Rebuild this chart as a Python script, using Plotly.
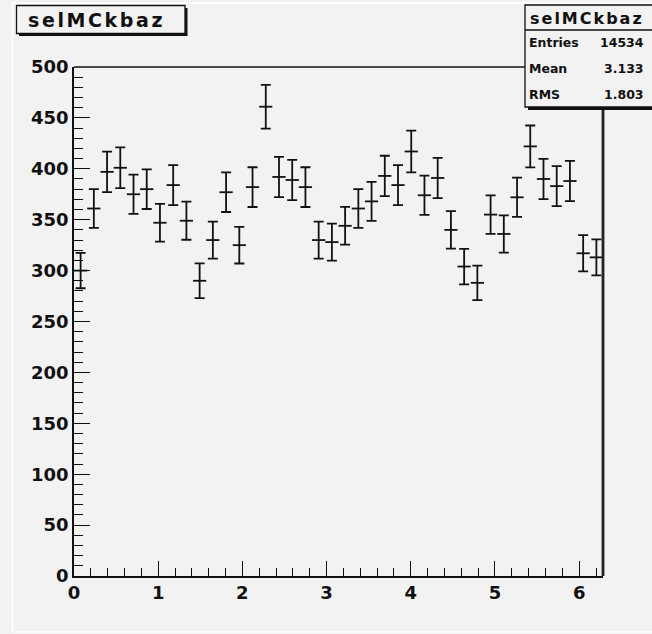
import numpy as np
import plotly.graph_objects as go

BG = "#f2f2f2"
INK = "#111111"
FONT = "DejaVu Sans"

# histogram selMCkbaz: 40 bins on [0, 2pi]
N_BINS = 40
X_MIN, X_MAX = 0.0, 2 * np.pi
COUNTS = [300, 361, 397, 401, 375, 380, 347, 384, 349, 290,
          330, 377, 325, 382, 461, 392, 389, 382, 330, 328,
          344, 361, 368, 393, 384, 417, 374, 391, 340, 304,
          288, 355, 336, 372, 422, 390, 383, 388, 317, 313]
STAT_LABELS = ["Entries", "Mean", "RMS"]
STAT_VALUES = ["14534", "3.133", "1.803"]
HIST_NAME = "selMCkbaz"

W, H = 652, 634
L, R, T, B = 74, 49, 67, 58
PW, PH = W - L - R, H - T - B


def px(x):
    return (x - L) / PW


def py(y):
    return (H - B - y) / PH


edges = np.linspace(X_MIN, X_MAX, N_BINS + 1)
centers = 0.5 * (edges[:-1] + edges[1:])
half = 0.5 * (edges[1] - edges[0])
counts = np.array(COUNTS, dtype=float)

fig = go.Figure(
    go.Scatter(
        x=centers, y=counts, mode="markers",
        marker=dict(size=1, color=INK),
        error_x=dict(type="constant", value=half, width=0, thickness=1.8, color=INK),
        error_y=dict(type="data", array=np.sqrt(counts), width=5, thickness=1.8, color=INK),
        showlegend=False, cliponaxis=False,
    )
)

axis_common = dict(
    showgrid=False, zeroline=False, showline=True, linecolor=INK, linewidth=1.5,
    ticks="inside", tickcolor=INK, tickwidth=1.3,
    tickfont=dict(family=FONT, size=18, color=INK, weight="bold"),
)
fig.update_xaxes(range=[X_MIN, X_MAX], dtick=1, tick0=0, ticklen=15,
                 minor=dict(ticks="inside", ticklen=8, dtick=0.2, tickcolor=INK, tickwidth=1.3),
                 **axis_common)
fig.update_yaxes(range=[0, 500], dtick=50, tick0=0, ticklen=16,
                 minor=dict(ticks="inside", ticklen=9, dtick=10, tickcolor=INK, tickwidth=1.3),
                 **axis_common)

shapes = [
    # pad border highlights
    dict(type="line", x0=px(12.5), x1=px(12.5), y0=py(3), y1=py(632), line=dict(color="#ffffff", width=1.5)),
    dict(type="line", x0=px(12), x1=px(720), y0=py(3), y1=py(3), line=dict(color="#ffffff", width=2)),
    dict(type="line", x0=px(12), x1=px(720), y0=py(632), y1=py(632), line=dict(color="#ffffff", width=1.5)),
    # frame top / right
    dict(type="line", x0=0, x1=1, y0=1, y1=1, line=dict(color=INK, width=1.3)),
    dict(type="line", x0=1, x1=1, y0=0, y1=1, line=dict(color="#222222", width=2.8)),
    # title box + shadow
    dict(type="rect", x0=px(19), x1=px(187.5), y0=py(8), y1=py(36), fillcolor=INK, line=dict(width=0)),
    dict(type="rect", x0=px(16.5), x1=px(185), y0=py(5.5), y1=py(33.5), fillcolor=BG, line=dict(color=INK, width=1.3)),
    # stats box + shadow
    dict(type="rect", x0=px(528), x1=px(730), y0=py(8), y1=py(110), fillcolor=INK, line=dict(width=0)),
    dict(type="rect", x0=px(525), x1=px(720), y0=py(5), y1=py(107), fillcolor=BG, line=dict(color=INK, width=1.3)),
    dict(type="line", x0=px(525), x1=px(720), y0=py(30), y1=py(30), line=dict(color=INK, width=1.3)),
]
for s in shapes:
    s.update(xref="paper", yref="paper")

annotations = [
    dict(x=px(96), y=py(20), text=f"<span style='letter-spacing:2.6px'>{HIST_NAME}</span>",
         font=dict(family=FONT, size=19, color=INK, weight="bold")),
    dict(x=px(587), y=py(18), text=f"<span style='letter-spacing:2px'>{HIST_NAME}</span>",
         font=dict(family=FONT, size=16, color=INK, weight="bold")),
]
for lab, val, yy in zip(STAT_LABELS, STAT_VALUES, [43, 69, 94]):
    annotations.append(dict(x=px(527), y=py(yy), text=lab, xanchor="left",
                            font=dict(family=FONT, size=12.5, color=INK, weight="bold")))
    annotations.append(dict(x=px(646), y=py(yy), text=val, xanchor="right",
                            font=dict(family=FONT, size=12.5, color=INK, weight="bold")))
for a in annotations:
    a.update(xref="paper", yref="paper", showarrow=False, yanchor="middle")
    a.setdefault("xanchor", "center")

fig.update_layout(
    width=W, height=H,
    margin=dict(l=L, r=R, t=T, b=B),
    paper_bgcolor=BG, plot_bgcolor=BG,
    shapes=shapes, annotations=annotations,
    showlegend=False,
)

fig.write_html("out.html", config={"displayModeBar": False},
               post_script="document.body.style.margin='0';document.body.style.overflow='hidden';")
